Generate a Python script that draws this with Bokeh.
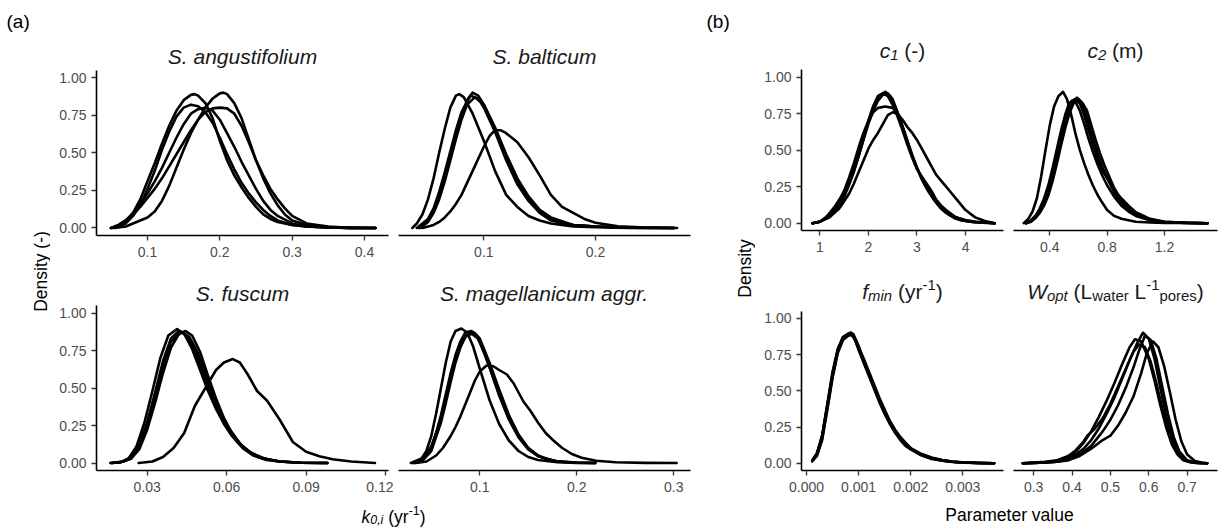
import math
from bokeh.plotting import figure
from bokeh.models import Range1d, FixedTicker, Label
from bokeh.layouts import row, column
from bokeh.embed import file_html
from bokeh.resources import INLINE
from bokeh.core.validation import silence
from bokeh.core.validation.warnings import MISSING_RENDERERS

silence(MISSING_RENDERERS, True)

FONT = "Liberation Sans"

# ------------------------------------------------------------------ data
# (a) S. angustifolium
ANG_X = [
    [0.049, 0.06, 0.07, 0.08, 0.09, 0.10, 0.11, 0.12, 0.13, 0.14, 0.15, 0.16, 0.165, 0.17, 0.18, 0.19, 0.20, 0.21, 0.22, 0.23, 0.24, 0.25, 0.26, 0.27, 0.28, 0.30, 0.32, 0.35, 0.38, 0.415],
    [0.052, 0.06, 0.07, 0.08, 0.09, 0.10, 0.11, 0.12, 0.13, 0.14, 0.15, 0.16, 0.17, 0.18, 0.19, 0.20, 0.21, 0.22, 0.23, 0.24, 0.25, 0.26, 0.27, 0.28, 0.30, 0.32, 0.35, 0.38, 0.415],
    [0.055, 0.07, 0.08, 0.09, 0.10, 0.11, 0.12, 0.13, 0.14, 0.15, 0.16, 0.17, 0.18, 0.19, 0.20, 0.205, 0.21, 0.22, 0.23, 0.24, 0.25, 0.26, 0.27, 0.28, 0.29, 0.30, 0.32, 0.35, 0.38, 0.415],
    [0.05, 0.06, 0.07, 0.08, 0.09, 0.10, 0.11, 0.12, 0.13, 0.14, 0.15, 0.16, 0.17, 0.18, 0.19, 0.20, 0.21, 0.22, 0.23, 0.24, 0.25, 0.26, 0.27, 0.28, 0.29, 0.30, 0.32, 0.35, 0.38, 0.415],
    [0.05, 0.06, 0.07, 0.08, 0.09, 0.10, 0.11, 0.12, 0.13, 0.14, 0.15, 0.16, 0.17, 0.18, 0.19, 0.20, 0.21, 0.22, 0.23, 0.24, 0.25, 0.26, 0.27, 0.28, 0.30, 0.32, 0.35, 0.38, 0.415],
]
ANG_Y = [
    [0.0, 0.01, 0.04, 0.10, 0.19, 0.31, 0.43, 0.56, 0.68, 0.78, 0.85, 0.885, 0.89, 0.88, 0.83, 0.73, 0.58, 0.45, 0.35, 0.27, 0.20, 0.14, 0.09, 0.06, 0.04, 0.02, 0.01, 0.004, 0.001, 0.0],
    [0.0, 0.01, 0.03, 0.08, 0.15, 0.26, 0.38, 0.52, 0.64, 0.74, 0.80, 0.82, 0.81, 0.77, 0.70, 0.60, 0.49, 0.39, 0.30, 0.23, 0.17, 0.12, 0.08, 0.05, 0.02, 0.01, 0.004, 0.001, 0.0],
    [0.0, 0.01, 0.03, 0.05, 0.07, 0.11, 0.18, 0.28, 0.40, 0.52, 0.63, 0.72, 0.80, 0.86, 0.895, 0.90, 0.89, 0.83, 0.73, 0.59, 0.45, 0.33, 0.23, 0.15, 0.09, 0.05, 0.02, 0.006, 0.001, 0.0],
    [0.0, 0.02, 0.05, 0.09, 0.14, 0.20, 0.26, 0.33, 0.41, 0.49, 0.57, 0.65, 0.72, 0.77, 0.795, 0.80, 0.795, 0.76, 0.68, 0.57, 0.45, 0.35, 0.26, 0.19, 0.13, 0.08, 0.03, 0.01, 0.002, 0.0],
    [0.0, 0.02, 0.05, 0.10, 0.16, 0.23, 0.31, 0.40, 0.50, 0.60, 0.69, 0.76, 0.79, 0.80, 0.78, 0.72, 0.63, 0.54, 0.44, 0.35, 0.26, 0.18, 0.12, 0.08, 0.03, 0.01, 0.004, 0.001, 0.0],
]

# (a) S. balticum
BAL_X = [
    [0.036, 0.04, 0.045, 0.05, 0.055, 0.06, 0.065, 0.07, 0.075, 0.078, 0.082, 0.09, 0.10, 0.11, 0.12, 0.13, 0.14, 0.15, 0.16, 0.18, 0.20, 0.23, 0.27],
    [0.042, 0.05, 0.055, 0.06, 0.065, 0.07, 0.075, 0.08, 0.085, 0.09, 0.095, 0.10, 0.11, 0.12, 0.13, 0.14, 0.15, 0.16, 0.17, 0.18, 0.20, 0.23, 0.27],
    [0.040, 0.05, 0.055, 0.06, 0.065, 0.07, 0.075, 0.08, 0.088, 0.095, 0.10, 0.11, 0.12, 0.13, 0.14, 0.15, 0.16, 0.18, 0.20, 0.23, 0.27],
    [0.043, 0.05, 0.055, 0.06, 0.065, 0.07, 0.075, 0.08, 0.085, 0.092, 0.10, 0.11, 0.12, 0.13, 0.14, 0.15, 0.16, 0.18, 0.20, 0.23, 0.27],
    [0.045, 0.055, 0.06, 0.065, 0.07, 0.075, 0.08, 0.085, 0.09, 0.095, 0.10, 0.105, 0.11, 0.115, 0.12, 0.13, 0.14, 0.15, 0.16, 0.17, 0.18, 0.19, 0.20, 0.22, 0.24, 0.273],
]
BAL_Y = [
    [0.0, 0.03, 0.09, 0.19, 0.33, 0.50, 0.66, 0.80, 0.88, 0.89, 0.87, 0.76, 0.58, 0.38, 0.22, 0.14, 0.08, 0.05, 0.03, 0.01, 0.005, 0.001, 0.0],
    [0.0, 0.05, 0.12, 0.22, 0.35, 0.49, 0.63, 0.75, 0.85, 0.90, 0.88, 0.82, 0.66, 0.47, 0.31, 0.19, 0.11, 0.06, 0.03, 0.02, 0.01, 0.002, 0.0],
    [0.0, 0.06, 0.13, 0.24, 0.37, 0.51, 0.65, 0.77, 0.88, 0.86, 0.80, 0.64, 0.45, 0.29, 0.18, 0.10, 0.05, 0.02, 0.01, 0.002, 0.0],
    [0.0, 0.04, 0.10, 0.19, 0.31, 0.45, 0.59, 0.72, 0.82, 0.87, 0.82, 0.67, 0.49, 0.33, 0.21, 0.12, 0.07, 0.02, 0.01, 0.002, 0.0],
    [0.0, 0.02, 0.04, 0.07, 0.11, 0.16, 0.22, 0.30, 0.38, 0.46, 0.54, 0.61, 0.65, 0.65, 0.63, 0.57, 0.47, 0.35, 0.22, 0.14, 0.10, 0.06, 0.035, 0.012, 0.005, 0.0],
]

# (a) S. fuscum
FUS_X = [
    [0.0162, 0.02, 0.023, 0.026, 0.029, 0.032, 0.035, 0.038, 0.0413, 0.044, 0.047, 0.050, 0.053, 0.056, 0.059, 0.062, 0.066, 0.070, 0.075, 0.080, 0.088, 0.098],
    [0.0162, 0.02, 0.024, 0.027, 0.030, 0.033, 0.036, 0.039, 0.042, 0.0445, 0.047, 0.050, 0.053, 0.056, 0.059, 0.062, 0.066, 0.070, 0.075, 0.080, 0.088, 0.098],
    [0.0165, 0.021, 0.024, 0.027, 0.030, 0.033, 0.036, 0.039, 0.043, 0.046, 0.049, 0.052, 0.055, 0.058, 0.061, 0.065, 0.069, 0.074, 0.080, 0.088, 0.098],
    [0.017, 0.021, 0.024, 0.027, 0.030, 0.033, 0.036, 0.039, 0.042, 0.045, 0.048, 0.051, 0.054, 0.057, 0.060, 0.064, 0.068, 0.073, 0.080, 0.088, 0.098],
    [0.0268, 0.032, 0.036, 0.040, 0.044, 0.048, 0.052, 0.056, 0.059, 0.0623, 0.065, 0.068, 0.0715, 0.0753, 0.080, 0.085, 0.090, 0.095, 0.100, 0.107, 0.116],
]
FUS_Y = [
    [0.0, 0.005, 0.03, 0.11, 0.27, 0.48, 0.70, 0.85, 0.893, 0.86, 0.76, 0.62, 0.48, 0.36, 0.26, 0.18, 0.10, 0.05, 0.02, 0.01, 0.002, 0.0],
    [0.0, 0.004, 0.03, 0.09, 0.22, 0.40, 0.60, 0.77, 0.86, 0.88, 0.85, 0.74, 0.58, 0.43, 0.30, 0.20, 0.11, 0.06, 0.025, 0.01, 0.002, 0.0],
    [0.0, 0.01, 0.03, 0.10, 0.24, 0.44, 0.65, 0.81, 0.875, 0.84, 0.74, 0.60, 0.46, 0.33, 0.23, 0.13, 0.07, 0.03, 0.01, 0.002, 0.0],
    [0.0, 0.01, 0.04, 0.12, 0.27, 0.47, 0.68, 0.83, 0.88, 0.85, 0.75, 0.61, 0.47, 0.34, 0.24, 0.14, 0.08, 0.035, 0.01, 0.002, 0.0],
    [0.0, 0.01, 0.04, 0.10, 0.20, 0.38, 0.50, 0.62, 0.67, 0.693, 0.67, 0.59, 0.48, 0.415, 0.29, 0.14, 0.075, 0.045, 0.025, 0.01, 0.0],
]

# (a) S. magellanicum aggr.
MAG_X = [
    [0.029, 0.04, 0.045, 0.05, 0.055, 0.06, 0.065, 0.07, 0.075, 0.081, 0.087, 0.093, 0.10, 0.11, 0.12, 0.13, 0.14, 0.15, 0.16, 0.18, 0.20, 0.219],
    [0.031, 0.04, 0.05, 0.055, 0.06, 0.065, 0.07, 0.075, 0.08, 0.085, 0.0914, 0.097, 0.10, 0.11, 0.12, 0.13, 0.14, 0.15, 0.16, 0.17, 0.18, 0.20, 0.219],
    [0.033, 0.04, 0.05, 0.06, 0.065, 0.07, 0.075, 0.08, 0.085, 0.09, 0.094, 0.10, 0.11, 0.12, 0.13, 0.14, 0.15, 0.16, 0.17, 0.18, 0.20, 0.219],
    [0.032, 0.04, 0.05, 0.06, 0.065, 0.07, 0.075, 0.08, 0.086, 0.092, 0.098, 0.105, 0.11, 0.12, 0.13, 0.14, 0.15, 0.16, 0.18, 0.20, 0.219],
    [0.034, 0.045, 0.055, 0.062, 0.07, 0.075, 0.08, 0.085, 0.09, 0.095, 0.10, 0.107, 0.114, 0.12, 0.128, 0.135, 0.14, 0.145, 0.152, 0.16, 0.168, 0.176, 0.185, 0.195, 0.205, 0.22, 0.24, 0.27, 0.303],
]
MAG_Y = [
    [0.0, 0.03, 0.08, 0.18, 0.33, 0.50, 0.67, 0.81, 0.88, 0.897, 0.87, 0.78, 0.63, 0.42, 0.26, 0.15, 0.08, 0.04, 0.02, 0.005, 0.001, 0.0],
    [0.0, 0.02, 0.11, 0.20, 0.32, 0.46, 0.60, 0.72, 0.81, 0.87, 0.88, 0.85, 0.81, 0.64, 0.46, 0.30, 0.18, 0.10, 0.05, 0.025, 0.012, 0.003, 0.0],
    [0.0, 0.01, 0.08, 0.27, 0.40, 0.54, 0.67, 0.77, 0.84, 0.87, 0.87, 0.83, 0.67, 0.49, 0.32, 0.19, 0.10, 0.05, 0.02, 0.01, 0.002, 0.0],
    [0.0, 0.02, 0.10, 0.30, 0.43, 0.57, 0.69, 0.78, 0.85, 0.86, 0.83, 0.73, 0.64, 0.45, 0.29, 0.17, 0.09, 0.045, 0.01, 0.002, 0.0],
    [0.0, 0.01, 0.05, 0.10, 0.18, 0.24, 0.31, 0.39, 0.47, 0.55, 0.61, 0.65, 0.645, 0.62, 0.59, 0.53, 0.47, 0.41, 0.35, 0.27, 0.20, 0.15, 0.10, 0.06, 0.035, 0.015, 0.005, 0.001, 0.0],
]

# (b) c1
C1_X = [
    [0.85, 1.0, 1.1, 1.2, 1.3, 1.4, 1.5, 1.6, 1.7, 1.8, 1.9, 2.0, 2.1, 2.2, 2.3, 2.4, 2.5, 2.6, 2.7, 2.8, 2.9, 3.0, 3.1, 3.2, 3.3, 3.4, 3.5, 3.6, 3.8, 4.0, 4.2, 4.6],
    [0.85, 1.0, 1.2, 1.4, 1.5, 1.6, 1.7, 1.8, 1.9, 2.0, 2.1, 2.2, 2.3, 2.4, 2.5, 2.6, 2.7, 2.8, 2.9, 3.0, 3.1, 3.2, 3.3, 3.4, 3.5, 3.6, 3.8, 4.0, 4.2, 4.6],
    [0.85, 1.0, 1.2, 1.4, 1.5, 1.6, 1.7, 1.8, 1.9, 2.0, 2.1, 2.2, 2.35, 2.5, 2.6, 2.7, 2.8, 2.9, 3.0, 3.1, 3.2, 3.3, 3.4, 3.5, 3.6, 3.8, 4.0, 4.2, 4.6],
    [0.85, 1.0, 1.2, 1.4, 1.5, 1.6, 1.7, 1.8, 1.9, 2.0, 2.1, 2.2, 2.35, 2.45, 2.55, 2.65, 2.75, 2.85, 2.95, 3.05, 3.15, 3.25, 3.35, 3.5, 3.7, 3.9, 4.1, 4.6],
    [0.85, 1.0, 1.2, 1.4, 1.5, 1.6, 1.7, 1.8, 1.9, 2.0, 2.1, 2.2, 2.3, 2.4, 2.5, 2.6, 2.7, 2.8, 2.9, 3.0, 3.1, 3.2, 3.3, 3.4, 3.5, 3.6, 3.7, 3.8, 4.0, 4.2, 4.4, 4.6],
]
C1_Y = [
    [0.0, 0.01, 0.03, 0.07, 0.11, 0.16, 0.22, 0.30, 0.39, 0.48, 0.59, 0.70, 0.80, 0.87, 0.89, 0.87, 0.81, 0.73, 0.64, 0.54, 0.45, 0.37, 0.32, 0.27, 0.22, 0.16, 0.12, 0.09, 0.04, 0.02, 0.01, 0.0],
    [0.0, 0.01, 0.05, 0.13, 0.19, 0.27, 0.36, 0.46, 0.57, 0.68, 0.77, 0.84, 0.88, 0.89, 0.85, 0.76, 0.66, 0.56, 0.46, 0.38, 0.31, 0.25, 0.20, 0.15, 0.11, 0.08, 0.04, 0.02, 0.01, 0.0],
    [0.0, 0.01, 0.06, 0.15, 0.22, 0.31, 0.41, 0.52, 0.62, 0.70, 0.76, 0.79, 0.80, 0.79, 0.75, 0.67, 0.57, 0.47, 0.38, 0.30, 0.24, 0.19, 0.14, 0.10, 0.07, 0.03, 0.015, 0.005, 0.0],
    [0.0, 0.01, 0.05, 0.12, 0.18, 0.26, 0.35, 0.46, 0.58, 0.70, 0.80, 0.87, 0.90, 0.87, 0.80, 0.71, 0.61, 0.51, 0.42, 0.34, 0.27, 0.21, 0.16, 0.10, 0.05, 0.02, 0.01, 0.0],
    [0.0, 0.01, 0.04, 0.10, 0.15, 0.20, 0.27, 0.35, 0.43, 0.51, 0.57, 0.62, 0.68, 0.74, 0.76, 0.75, 0.71, 0.66, 0.62, 0.57, 0.51, 0.45, 0.39, 0.33, 0.29, 0.25, 0.21, 0.17, 0.09, 0.04, 0.015, 0.0],
]

# (b) c2
C2_X = [
    [0.218, 0.25, 0.28, 0.31, 0.34, 0.37, 0.40, 0.43, 0.46, 0.493, 0.52, 0.55, 0.58, 0.61, 0.64, 0.67, 0.70, 0.73, 0.76, 0.80, 0.85, 0.90, 0.95, 1.0, 1.1, 1.2, 1.35, 1.5],
    [0.232, 0.27, 0.30, 0.33, 0.36, 0.39, 0.42, 0.45, 0.48, 0.51, 0.54, 0.575, 0.61, 0.64, 0.67, 0.70, 0.73, 0.76, 0.80, 0.85, 0.90, 0.95, 1.0, 1.1, 1.2, 1.35, 1.5],
    [0.235, 0.27, 0.30, 0.33, 0.36, 0.39, 0.42, 0.45, 0.48, 0.51, 0.54, 0.57, 0.59, 0.62, 0.65, 0.68, 0.71, 0.74, 0.77, 0.80, 0.85, 0.90, 0.95, 1.0, 1.1, 1.2, 1.35, 1.5],
    [0.233, 0.27, 0.30, 0.33, 0.36, 0.39, 0.42, 0.45, 0.48, 0.51, 0.535, 0.555, 0.58, 0.61, 0.64, 0.67, 0.70, 0.73, 0.76, 0.80, 0.85, 0.90, 0.95, 1.0, 1.1, 1.2, 1.35, 1.5],
    [0.236, 0.27, 0.30, 0.33, 0.36, 0.39, 0.42, 0.45, 0.48, 0.51, 0.54, 0.57, 0.60, 0.63, 0.66, 0.69, 0.72, 0.75, 0.78, 0.81, 0.85, 0.90, 0.95, 1.0, 1.1, 1.2, 1.35, 1.5],
]
C2_Y = [
    [0.0, 0.03, 0.08, 0.17, 0.32, 0.50, 0.67, 0.80, 0.87, 0.90, 0.85, 0.74, 0.61, 0.50, 0.41, 0.33, 0.26, 0.20, 0.15, 0.09, 0.05, 0.03, 0.02, 0.01, 0.005, 0.002, 0.001, 0.0],
    [0.0, 0.02, 0.05, 0.09, 0.15, 0.24, 0.35, 0.48, 0.61, 0.73, 0.82, 0.85, 0.82, 0.74, 0.64, 0.54, 0.45, 0.37, 0.31, 0.22, 0.17, 0.12, 0.075, 0.03, 0.01, 0.003, 0.0],
    [0.0, 0.015, 0.04, 0.08, 0.13, 0.21, 0.31, 0.43, 0.56, 0.68, 0.78, 0.84, 0.86, 0.83, 0.75, 0.65, 0.55, 0.46, 0.38, 0.31, 0.21, 0.14, 0.09, 0.055, 0.02, 0.008, 0.002, 0.0],
    [0.0, 0.02, 0.05, 0.10, 0.17, 0.26, 0.38, 0.51, 0.64, 0.75, 0.82, 0.84, 0.83, 0.77, 0.68, 0.58, 0.49, 0.41, 0.34, 0.26, 0.18, 0.12, 0.08, 0.05, 0.02, 0.007, 0.002, 0.0],
    [0.0, 0.01, 0.035, 0.07, 0.12, 0.19, 0.29, 0.41, 0.54, 0.66, 0.76, 0.83, 0.85, 0.82, 0.77, 0.67, 0.57, 0.48, 0.40, 0.33, 0.24, 0.16, 0.10, 0.06, 0.025, 0.01, 0.003, 0.0],
]

# (b) f_min
FMIN_X = [0.00011, 0.0002, 0.0003, 0.0004, 0.0005, 0.0006, 0.0007, 0.0008, 0.00085, 0.0009, 0.001, 0.0011, 0.0012, 0.0013, 0.0014, 0.0015, 0.0016, 0.0017, 0.0018, 0.0019, 0.002, 0.0022, 0.0024, 0.0026, 0.0028, 0.003, 0.0033, 0.0036]
FMIN_Y = [
    [0.016, 0.06, 0.17, 0.38, 0.60, 0.77, 0.86, 0.89, 0.90, 0.89, 0.81, 0.70, 0.61, 0.52, 0.43, 0.35, 0.28, 0.22, 0.17, 0.13, 0.10, 0.06, 0.035, 0.02, 0.01, 0.005, 0.002, 0.0],
    [0.015, 0.06, 0.18, 0.40, 0.62, 0.78, 0.86, 0.885, 0.89, 0.88, 0.80, 0.71, 0.62, 0.53, 0.44, 0.36, 0.29, 0.23, 0.18, 0.14, 0.105, 0.065, 0.04, 0.022, 0.012, 0.006, 0.002, 0.0],
    [0.02, 0.07, 0.19, 0.41, 0.63, 0.79, 0.87, 0.89, 0.895, 0.88, 0.79, 0.69, 0.60, 0.51, 0.42, 0.34, 0.27, 0.21, 0.16, 0.12, 0.095, 0.055, 0.03, 0.018, 0.009, 0.004, 0.002, 0.0],
    [0.014, 0.05, 0.16, 0.37, 0.59, 0.76, 0.85, 0.88, 0.885, 0.87, 0.80, 0.72, 0.63, 0.54, 0.45, 0.37, 0.29, 0.23, 0.18, 0.14, 0.10, 0.06, 0.035, 0.02, 0.01, 0.005, 0.002, 0.0],
    [0.018, 0.065, 0.19, 0.40, 0.61, 0.78, 0.87, 0.895, 0.90, 0.885, 0.78, 0.70, 0.61, 0.52, 0.43, 0.35, 0.28, 0.22, 0.17, 0.13, 0.10, 0.06, 0.035, 0.02, 0.01, 0.005, 0.002, 0.0],
]

# (b) W_opt
WOPT_X = [
    [0.272, 0.30, 0.33, 0.36, 0.39, 0.41, 0.43, 0.45, 0.47, 0.49, 0.51, 0.53, 0.55, 0.57, 0.585, 0.60, 0.615, 0.63, 0.645, 0.66, 0.675, 0.69, 0.71, 0.73, 0.752],
    [0.272, 0.30, 0.33, 0.36, 0.39, 0.41, 0.43, 0.45, 0.47, 0.49, 0.51, 0.53, 0.55, 0.564, 0.58, 0.60, 0.615, 0.63, 0.645, 0.66, 0.675, 0.69, 0.71, 0.73, 0.752],
    [0.272, 0.30, 0.33, 0.36, 0.39, 0.42, 0.45, 0.48, 0.50, 0.52, 0.54, 0.56, 0.58, 0.595, 0.611, 0.625, 0.64, 0.655, 0.67, 0.685, 0.70, 0.72, 0.74, 0.752],
    [0.272, 0.30, 0.33, 0.36, 0.39, 0.41, 0.43, 0.44, 0.46, 0.48, 0.50, 0.52, 0.54, 0.56, 0.575, 0.59, 0.605, 0.62, 0.635, 0.65, 0.665, 0.68, 0.70, 0.72, 0.752],
    [0.272, 0.30, 0.33, 0.36, 0.39, 0.42, 0.45, 0.48, 0.50, 0.52, 0.54, 0.56, 0.575, 0.59, 0.605, 0.62, 0.635, 0.65, 0.665, 0.68, 0.70, 0.72, 0.752],
]
WOPT_Y = [
    [0.0, 0.002, 0.005, 0.01, 0.03, 0.06, 0.10, 0.16, 0.24, 0.34, 0.45, 0.58, 0.71, 0.83, 0.90, 0.86, 0.72, 0.52, 0.33, 0.18, 0.08, 0.03, 0.008, 0.002, 0.0],
    [0.0, 0.003, 0.007, 0.015, 0.04, 0.08, 0.14, 0.22, 0.32, 0.43, 0.55, 0.68, 0.80, 0.855, 0.84, 0.72, 0.57, 0.40, 0.25, 0.13, 0.06, 0.02, 0.005, 0.001, 0.0],
    [0.0, 0.002, 0.005, 0.01, 0.02, 0.05, 0.10, 0.16, 0.19, 0.26, 0.35, 0.46, 0.62, 0.76, 0.84, 0.80, 0.67, 0.49, 0.30, 0.15, 0.06, 0.015, 0.003, 0.0],
    [0.0, 0.004, 0.01, 0.02, 0.05, 0.09, 0.15, 0.19, 0.24, 0.31, 0.41, 0.53, 0.65, 0.77, 0.82, 0.80, 0.70, 0.55, 0.38, 0.22, 0.11, 0.05, 0.015, 0.003, 0.0],
    [0.0, 0.002, 0.005, 0.01, 0.025, 0.06, 0.12, 0.22, 0.30, 0.40, 0.52, 0.66, 0.78, 0.88, 0.85, 0.72, 0.53, 0.34, 0.18, 0.08, 0.02, 0.005, 0.0],
]

# ticks and tick labels
Y_TICKS = [0, 0.25, 0.5, 0.75, 1]
Y_TICK_LABELS = ["0.00", "0.25", "0.50", "0.75", "1.00"]
ANG_TICKS = [0.1, 0.2, 0.3, 0.4]
ANG_TICK_LABELS = ["0.1", "0.2", "0.3", "0.4"]
BAL_TICKS = [0.1, 0.2]
BAL_TICK_LABELS = ["0.1", "0.2"]
FUS_TICKS = [0.03, 0.06, 0.09, 0.12]
FUS_TICK_LABELS = ["0.03", "0.06", "0.09", "0.12"]
MAG_TICKS = [0.1, 0.2, 0.3]
MAG_TICK_LABELS = ["0.1", "0.2", "0.3"]
C1_TICKS = [1, 2, 3, 4]
C1_TICK_LABELS = ["1", "2", "3", "4"]
C2_TICKS = [0.4, 0.8, 1.2]
C2_TICK_LABELS = ["0.4", "0.8", "1.2"]
FMIN_TICKS = [0, 0.001, 0.002, 0.003]
FMIN_TICK_LABELS = ["0.000", "0.001", "0.002", "0.003"]
WOPT_TICKS = [0.3, 0.4, 0.5, 0.6, 0.7]
WOPT_TICK_LABELS = ["0.3", "0.4", "0.5", "0.6", "0.7"]

# ------------------------------------------------------------------ helpers
CW = {' ': 278, '(': 333, ')': 333, '-': 333, ',': 278, '.': 278,
      'a': 556, 'b': 556, 'c': 500, 'd': 556, 'e': 556, 'f': 278, 'g': 556, 'h': 556,
      'i': 222, 'j': 222, 'k': 500, 'l': 222, 'm': 833, 'n': 556, 'o': 556, 'p': 556,
      'q': 556, 'r': 333, 's': 500, 't': 278, 'u': 556, 'v': 500, 'w': 722, 'x': 500,
      'y': 500, 'z': 500, 'L': 556, 'W': 944, 'S': 667, 'P': 667}


def text_w(s, size):
    return sum(CW.get(ch, 556) for ch in s) * size / 1000.0


def key(v):
    return int(v) if float(v).is_integer() else v


class Info:
    pass


def make_panel(xs, ys, xrange, ticks, labels, w, h, ml, mr, mt, mb, ytop, show_y, fig_left, fig_top):
    p = figure(width=w, height=h, x_range=Range1d(*xrange), y_range=Range1d(-0.05, ytop),
               output_backend="svg", toolbar_location=None,
               min_border_left=ml, min_border_right=mr, min_border_top=mt, min_border_bottom=mb,
               x_axis_location="below", y_axis_location=("left" if show_y else None))
    p.grid.visible = False
    p.outline_line_color = None
    p.background_fill_color = "white"
    p.border_fill_color = "white"
    for x, y in zip(xs, ys):
        p.line(x, y, line_color="black", line_width=2.6, line_join="round", line_cap="round")
    axes = [(p.xaxis[0], ticks, labels, 6)]
    if show_y:
        axes.append((p.yaxis[0], Y_TICKS, Y_TICK_LABELS, 5))
    for ax, tk, lb, so in axes:
        ax.ticker = FixedTicker(ticks=tk)
        ax.major_label_overrides = {key(t): l for t, l in zip(tk, lb)}
        ax.minor_tick_line_color = None
        ax.major_tick_in = 0
        ax.major_tick_out = 5
        ax.major_tick_line_color = "#333333"
        ax.major_tick_line_width = 1.3
        ax.axis_line_color = "black"
        ax.axis_line_width = 1.6
        ax.major_label_text_font = FONT
        ax.major_label_text_font_size = "14px"
        ax.major_label_text_color = "#4D4D4D"
        ax.major_label_standoff = so
    if show_y:
        p.yaxis[0].bounds = (-0.05, 1.05)
    info = Info()
    info.fw = w - ml - mr
    info.fh = h - mt - mb
    info.ppx = info.fw / (xrange[1] - xrange[0])
    info.ppy = info.fh / (ytop + 0.05)
    info.cx = 0.5 * (xrange[0] + xrange[1])
    info.frame_top = fig_top + mt
    info.ytop = ytop
    return p, info


def rich(p, pieces, cx, base_y, size, ppx, ppy, color):
    """pieces: (text, kind, italic) with kind 'n', 'sub', 'sup'.  base_y in data units,
    ppx/ppy pixels per data unit (ppy positive upward)."""
    small = 0.71 * size
    widths = []
    for txt, kind, it in pieces:
        fs = size if kind == "n" else small
        widths.append(text_w(txt, fs))
    x = cx - sum(widths) / 2.0 / ppx
    for (txt, kind, it), wpx in zip(pieces, widths):
        fs = size if kind == "n" else small
        dy = 0.0 if kind == "n" else (-0.21 * size if kind == "sub" else 0.33 * size)
        lead = len(txt) - len(txt.lstrip(" "))
        shift = text_w(" " * lead, fs)
        p.add_layout(Label(x=x + shift / ppx, y=base_y + dy / ppy, text=txt.lstrip(" "),
                           text_font=FONT, text_font_size="%.1fpx" % fs,
                           text_font_style=("italic" if it else "normal"),
                           text_align="left", text_baseline="alphabetic", text_color=color))
        x += wpx / ppx


def title(p, info, pieces, baseline_page, size=21, color="#1A1A1A"):
    yb = info.ytop - (baseline_page - info.frame_top) / info.ppy
    rich(p, pieces, info.cx, yb, size, info.ppx, info.ppy, color)


def strip(w, h, xr, yr):
    p = figure(width=w, height=h, x_range=Range1d(*xr), y_range=Range1d(*yr),
               output_backend="svg", toolbar_location=None,
               min_border_left=0, min_border_right=0, min_border_top=0, min_border_bottom=0,
               x_axis_location=None, y_axis_location=None)
    p.grid.visible = False
    p.outline_line_color = None
    p.background_fill_color = "white"
    p.border_fill_color = "white"
    return p


# ------------------------------------------------------------------ panel (a)
p_ang, i_ang = make_panel(ANG_X, ANG_Y, (0.0295, 0.4332), ANG_TICKS, ANG_TICK_LABELS,
                          343, 265, 46, 5, 29, 30, -0.05 + 206 / 150.4, True, 50, 0)
p_bal, i_bal = make_panel(BAL_X, BAL_Y, (0.0236, 0.285), BAL_TICKS, BAL_TICK_LABELS,
                          307, 265, 5, 10, 29, 30, -0.05 + 206 / 150.4, False, 393, 0)
p_fus, i_fus = make_panel(FUS_X, FUS_Y, (0.0109, 0.1211), FUS_TICKS, FUS_TICK_LABELS,
                          343, 232, 46, 5, 5, 27, -0.05 + 200 / 150.0, True, 50, 265)
p_mag, i_mag = make_panel(MAG_X, MAG_Y, (0.0162, 0.3173), MAG_TICKS, MAG_TICK_LABELS,
                          307, 232, 5, 10, 5, 27, -0.05 + 200 / 150.0, False, 393, 265)

title(p_ang, i_ang, [("S. angustifolium", "n", True)], 56)
title(p_bal, i_bal, [("S. balticum", "n", True)], 56)
title(p_fus, i_fus, [("S. fuscum", "n", True)], 292.5)
title(p_mag, i_mag, [("S. magellanicum aggr.", "n", True)], 292.5)

strip_a = strip(50, 529, (0, 50), (529, 0))
strip_a.add_layout(Label(x=6, y=21, text="(a)", text_font=FONT, text_font_size="19px",
                         text_align="left", text_baseline="alphabetic", text_color="black"))
strip_a.add_layout(Label(x=40, y=271, text="Density (-)", angle=math.pi / 2, text_font=FONT,
                         text_font_size="17.5px", text_align="center", text_baseline="middle",
                         text_color="black"))

xt_a = strip(650, 32, (50, 700), (529, 497))
rich(xt_a, [("k", "n", True), ("0,i", "sub", True), (" (yr", "n", False), ("-1", "sup", False), (")", "n", False)],
     393, 516, 17.5, 1.0, -1.0, "black")

block_a = row(strip_a, column(row(p_ang, p_bal), row(p_fus, p_mag), xt_a))

# ------------------------------------------------------------------ panel (b)
p_c1, i_c1 = make_panel(C1_X, C1_Y, (0.623, 4.782), C1_TICKS, C1_TICK_LABELS,
                        253, 265, 46, 5, 29, 35, -0.05 + 201 / 146.0, True, 755, 0)
p_c2, i_c2 = make_panel(C2_X, C2_Y, (0.147, 1.57), C2_TICKS, C2_TICK_LABELS,
                        217, 265, 5, 8, 29, 35, -0.05 + 201 / 146.0, False, 1008, 0)
p_fm, i_fm = make_panel([FMIN_X] * len(FMIN_Y), FMIN_Y, (-0.000096, 0.00378), FMIN_TICKS, FMIN_TICK_LABELS,
                        253, 232, 46, 5, 5, 27, -0.05 + 200 / 145.0, True, 755, 265)
p_wo, i_wo = make_panel(WOPT_X, WOPT_Y, (0.2476, 0.779), WOPT_TICKS, WOPT_TICK_LABELS,
                        217, 232, 5, 8, 5, 27, -0.05 + 200 / 145.0, False, 1008, 265)

title(p_c1, i_c1, [("c", "n", True), ("1", "sub", True), (" (-)", "n", False)], 50)
title(p_c2, i_c2, [("c", "n", True), ("2", "sub", True), (" (m)", "n", False)], 50)
title(p_fm, i_fm, [("f", "n", True), ("min", "sub", True), (" (yr", "n", False), ("-1", "sup", False),
                   (")", "n", False)], 291)
title(p_wo, i_wo, [("W", "n", True), ("opt", "sub", True), (" (L", "n", False), ("water", "sub", False),
                   (" L", "n", False), ("-1", "sup", False), ("pores", "sub", False), (")", "n", False)], 291)

strip_b = strip(55, 529, (700, 755), (529, 0))
strip_b.add_layout(Label(x=706, y=21, text="(b)", text_font=FONT, text_font_size="19px",
                         text_align="left", text_baseline="alphabetic", text_color="black"))
strip_b.add_layout(Label(x=744, y=268, text="Density", angle=math.pi / 2, text_font=FONT,
                         text_font_size="17.5px", text_align="center", text_baseline="middle",
                         text_color="black"))

xt_b = strip(470, 32, (755, 1225), (529, 497))
xt_b.add_layout(Label(x=1009, y=514, text="Parameter value", text_font=FONT, text_font_size="17.5px",
                      text_align="center", text_baseline="alphabetic", text_color="black"))

block_b = row(strip_b, column(row(p_c1, p_c2), row(p_fm, p_wo), xt_b))

layout = row(block_a, block_b)

open("out.html", "w").write(file_html(layout, INLINE))
